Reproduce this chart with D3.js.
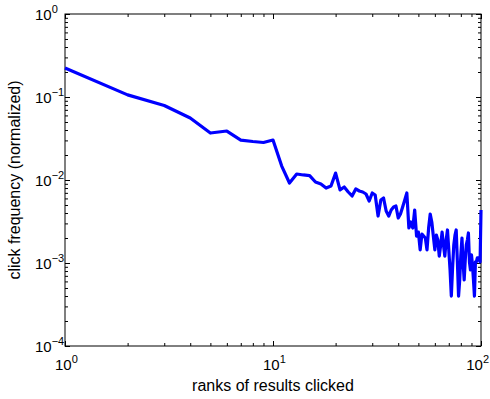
<!DOCTYPE html>
<html>
<head>
  <meta charset="utf-8">
  <title>click frequency vs rank</title>
  <style>
    body { margin: 0; background: #fff; }
    text { font-family: "Liberation Sans", Arial, sans-serif; fill: #000; }
  </style>
</head>
<body>
  <svg width="490" height="399"></svg>
  <script src="https://d3js.org/d3.v7.min.js"></script>
  <script>
  // ranks 1..100 and normalized click frequency
  var ranks = d3.range(1, 101);
  var freq = [
    0.223, 0.106, 0.079, 0.0558, 0.0368, 0.0389, 0.0303, 0.0291, 0.0283, 0.0303,
    0.0148, 0.0092, 0.0118, 0.0115, 0.0113, 0.00946, 0.00895, 0.0080, 0.00847, 0.0121,
    0.0076, 0.00824, 0.00717, 0.00642, 0.0078, 0.00737, 0.00717, 0.00678, 0.00558, 0.00697,
    0.00659, 0.00368, 0.00574, 0.00607, 0.00423, 0.00368, 0.00435, 0.00473, 0.00486, 0.00348,
    0.00389, 0.00473, 0.00574, 0.00697, 0.00264, 0.00312, 0.00264, 0.00435, 0.00211, 0.00236,
    0.00144, 0.00223, 0.00211, 0.00200, 0.00144, 0.00264, 0.00389, 0.00312, 0.00211, 0.00144,
    0.00217, 0.00189, 0.00121, 0.00165, 0.00236, 0.00165, 0.00121, 0.00189, 0.00250, 0.00144,
    0.000824, 0.000400, 0.000871, 0.00165, 0.00217, 0.00250, 0.00103, 0.000400, 0.000624, 0.00125,
    0.00200, 0.00103, 0.000624, 0.00109, 0.00165, 0.00189, 0.00230, 0.00103, 0.000824, 0.00125,
    0.000946, 0.000624, 0.000400, 0.00103, 0.00103, 0.00115, 0.00115, 0.00109, 0.00103, 0.00435
  ];
  var xDomain = [1, 100];
  var yDomain = [1e-4, 1];
  var xMajors = [1, 10, 100];
  var yMajors = [1e-4, 1e-3, 1e-2, 1e-1, 1];
  var xLabel = "ranks of results clicked";
  var yLabel = "click frequency (normalized)";

  var margin = {left: 65, right: 9, top: 14, bottom: 53};
  var W = 490, H = 399;
  var svg = d3.select("svg");

  var x = d3.scaleLog().domain(xDomain).range([margin.left, W - margin.right]);
  var y = d3.scaleLog().domain(yDomain).range([H - margin.bottom, margin.top]);

  function isMajor(v) { return Math.abs(Math.log10(v) - Math.round(Math.log10(v))) < 1e-6; }

  // ticks on all four sides, pointing inward
  function tickSides(axisFn, scale, transform, sign) {
    var g = svg.append("g").attr("transform", transform)
      .call(axisFn(scale).ticks(10).tickFormat("").tickSizeOuter(0));
    g.select(".domain").remove();
    g.selectAll(".tick line")
      .attr("stroke", "#000")
      .each(function(d) {
        var len = (isMajor(d) ? 5 : 3) * sign;
        var line = d3.select(this);
        if (axisFn === d3.axisBottom || axisFn === d3.axisTop) line.attr("y2", len);
        else line.attr("x2", len);
      });
    return g;
  }
  var x0 = margin.left, x1 = W - margin.right, y0 = H - margin.bottom, y1 = margin.top;
  tickSides(d3.axisBottom, x, "translate(0," + y0 + ")", -1);
  tickSides(d3.axisTop, x, "translate(0," + y1 + ")", 1);
  tickSides(d3.axisLeft, y, "translate(" + x0 + ",0)", 1);
  tickSides(d3.axisRight, y, "translate(" + x1 + ",0)", -1);

  // frame
  svg.append("rect")
    .attr("x", x0).attr("y", y1)
    .attr("width", x1 - x0).attr("height", y0 - y1)
    .attr("fill", "none").attr("stroke", "#000").attr("stroke-width", 1);

  // tick labels 10^n
  function expText(e) { return e < 0 ? "\u2212" + (-e) : String(e); }

  xMajors.forEach(function(v) {
    var t = svg.append("text")
      .attr("x", x(v) - 10).attr("y", y0 + 24)
      .style("font-size", "15px");
    t.append("tspan").text("10");
    t.append("tspan").attr("dy", -7).style("font-size", "11px").text(expText(Math.round(Math.log10(v))));
    // keep the last label inside the picture
    var w = t.node().getComputedTextLength();
    var over = (x(v) - 10 + w) - (W - 1);
    if (over > 0) t.attr("x", x(v) - 10 - over);
  });

  yMajors.forEach(function(v) {
    var t = svg.append("text")
      .attr("x", x0 - 30).attr("y", y(v) + 6)
      .style("font-size", "15px");
    t.append("tspan").text("10");
    t.append("tspan").attr("dy", -7).style("font-size", "11px").text(expText(Math.round(Math.log10(v))));
  });

  // line
  var line = d3.line()
    .x(function(d, i) { return x(ranks[i]); })
    .y(function(d) { return y(d); });

  svg.append("path")
    .datum(freq)
    .attr("d", line)
    .attr("fill", "none")
    .attr("stroke", "#0000ff")
    .attr("stroke-width", 3.2)
    .attr("stroke-linejoin", "round");

  // axis labels
  svg.append("text")
    .attr("x", (x0 + x1) / 2).attr("y", H - 8)
    .attr("text-anchor", "middle")
    .style("font-size", "16px")
    .text(xLabel);

  svg.append("text")
    .attr("transform", "translate(20," + ((y0 + y1) / 2) + ") rotate(-90)")
    .attr("text-anchor", "middle")
    .style("font-size", "16px")
    .text(yLabel);
  </script>
</body>
</html>
